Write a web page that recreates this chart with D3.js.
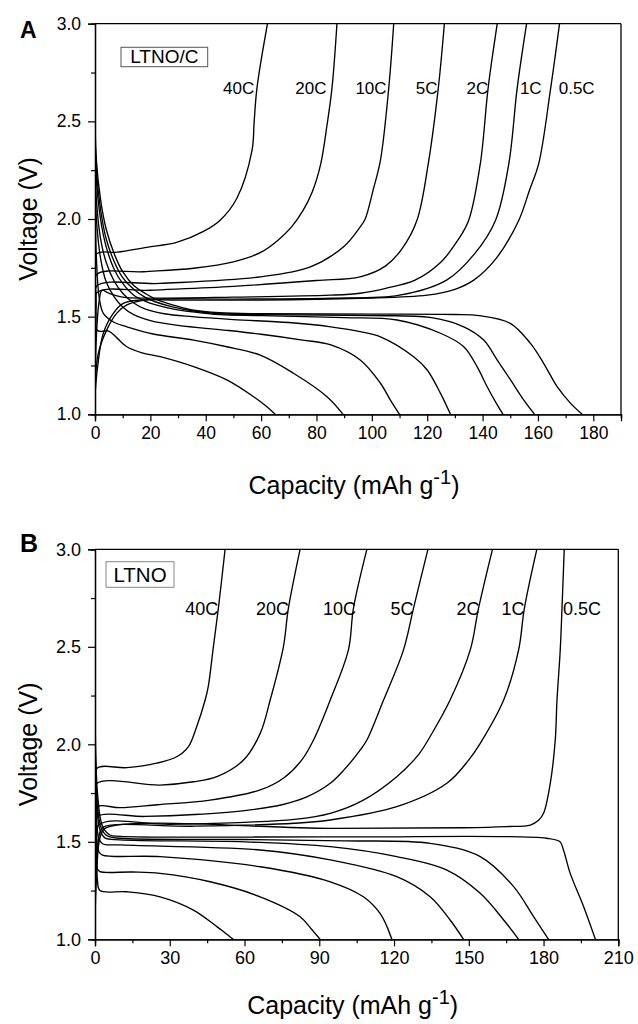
<!DOCTYPE html>
<html><head><meta charset="utf-8">
<script src="https://cdn.jsdelivr.net/npm/d3@7/dist/d3.min.js"></script>
<style>
body{margin:0;background:#fff}
svg{display:block}
text{font-family:"Liberation Sans",Arial,Helvetica,sans-serif;fill:#000}
</style></head><body>
<svg id="chart" width="638" height="1024"></svg>
<script>
// ---------- DATA (capacity mAh/g, voltage V) ----------
const rates = ["40C","20C","10C","5C","2C","1C","0.5C"];

// Panel A : LTNO/C
const A_charge_40C = [[0,1.25],[0.2,1.6],[0.5,1.82],[8,1.83],[18.7,1.855],[29.5,1.88],[39,1.935],[45.2,1.994],[51.2,2.105],[56.7,2.35],[57.5,2.5],[58.5,2.67],[62.3,3.0]];
const A_charge_20C = [[0,1.2],[0.3,1.6],[0.6,1.716],[17.5,1.73],[35.6,1.748],[50,1.78],[60,1.83],[66,1.89],[71,1.96],[75,2.04],[78.5,2.14],[81.5,2.28],[83.8,2.48],[85.6,2.67],[87.4,3.0]];
const A_charge_10C = [[0,1.2],[0.3,1.55],[0.6,1.657],[23.5,1.67],[59.7,1.704],[77.8,1.755],[89.8,1.858],[95.8,1.96],[97.6,2.0],[100.5,2.15],[103.1,2.3],[106.1,2.67],[107.9,3.0]];
const A_charge_5C  = [[0,1.2],[0.3,1.5],[0.6,1.622],[20,1.635],[50,1.655],[80,1.685],[95.8,1.704],[105,1.76],[111,1.85],[116.3,1.994],[120.4,2.285],[124,2.67],[126.2,3.0]];
const A_charge_2C  = [[0,1.15],[0.5,1.4],[1.5,1.58],[2.5,1.635],[5,1.62],[10,1.6],[20,1.595],[50,1.6],[85,1.61],[95.8,1.62],[105,1.645],[115.6,1.687],[125,1.78],[131,1.89],[135,1.994],[139.2,2.285],[142,2.67],[145.3,3.0]];
const A_charge_1C  = [[0,1.15],[1.2,1.312],[4.2,1.431],[7.8,1.517],[11.5,1.56],[16.3,1.581],[23.5,1.59],[50,1.59],[85,1.594],[110,1.61],[127,1.687],[137,1.82],[144.7,1.994],[149.5,2.285],[152.5,2.67],[155.9,3.0]];
const A_charge_05C = [[0,1.1],[1,1.25],[3,1.415],[6.6,1.517],[10.2,1.568],[16.3,1.585],[30,1.585],[60,1.585],[95.8,1.594],[120,1.61],[130,1.64],[136.8,1.687],[145,1.8],[153.1,1.994],[157,2.15],[160.3,2.285],[164.6,2.67],[167.8,3.0]];

const A_dis_40C = [[0,1.9],[0.3,1.6],[0.8,1.43],[5,1.426],[8,1.39],[11.5,1.346],[17,1.315],[23.5,1.295],[35.6,1.244],[47.6,1.176],[57.3,1.09],[62,1.04],[65.1,1.0]];
const A_dis_20C = [[0,2.1],[0.5,1.8],[1.5,1.6],[3,1.517],[7,1.47],[11.5,1.448],[21,1.411],[35.6,1.38],[47.6,1.346],[59.7,1.303],[71.7,1.21],[83.8,1.09],[89.6,1.0]];
const A_dis_10C = [[0,2.2],[0.5,2.0],[2,1.8],[4,1.68],[7,1.6],[10,1.55],[14,1.51],[20,1.48],[30,1.455],[47.6,1.43],[60,1.41],[75,1.38],[85.2,1.355],[95.8,1.278],[103.1,1.159],[106.7,1.073],[110,1.0]];
const A_dis_5C  = [[0,2.3],[0.5,2.1],[2,1.9],[4,1.78],[7,1.68],[10,1.62],[14,1.57],[18,1.54],[25,1.515],[35,1.5],[50,1.485],[70,1.47],[85.2,1.448],[95.8,1.423],[103.1,1.397],[115.1,1.295],[120,1.227],[124.8,1.107],[128.4,1.0]];
const A_dis_2C  = [[0,2.4],[0.5,2.2],[2,2.0],[4,1.86],[7,1.74],[10,1.67],[14,1.61],[18,1.58],[22,1.56],[28,1.54],[35,1.525],[45,1.51],[60,1.505],[90,1.495],[109.1,1.483],[124.8,1.415],[133.2,1.346],[138,1.244],[141.7,1.14],[145.3,1.048],[147.4,1.0]];
const A_dis_1C  = [[0,2.45],[0.5,2.25],[2,2.05],[4,1.9],[7,1.78],[10,1.7],[14,1.64],[18,1.6],[22,1.575],[28,1.55],[35,1.53],[45,1.515],[60,1.51],[100,1.505],[121,1.496],[133.2,1.448],[140.4,1.38],[145.3,1.278],[150.1,1.176],[154.9,1.073],[158.8,1.0]];
const A_dis_05C = [[0,2.5],[0.5,2.3],[2,2.1],[4,1.95],[7,1.82],[10,1.73],[14,1.66],[18,1.62],[22,1.59],[28,1.56],[35,1.535],[45,1.52],[60,1.515],[100,1.513],[130,1.511],[139,1.505],[150,1.466],[157.3,1.363],[162.1,1.26],[167,1.14],[171.8,1.056],[176,1.0]];

// Panel B : LTNO
const B_charge_40C = [[0,1.3],[0.3,1.75],[0.8,1.877],[12.7,1.88],[24.7,1.903],[32.8,1.936],[37.5,1.988],[40.8,2.09],[44.2,2.227],[45.5,2.3],[47.5,2.5],[49.5,2.697],[52.2,3.0]];
const B_charge_20C = [[0,1.25],[0.3,1.7],[0.8,1.8],[26.1,1.791],[39.5,1.808],[48.9,1.834],[59.6,1.919],[66.3,2.056],[70.3,2.227],[75.6,2.5],[77.6,2.697],[82.3,3.0]];
const B_charge_10C = [[0,1.2],[0.5,1.6],[1,1.68],[10,1.675],[25,1.69],[46.2,1.714],[66.3,1.766],[76,1.83],[83,1.92],[87.7,2.022],[94.4,2.227],[101.7,2.484],[103.7,2.697],[109.1,3.0]];
const B_charge_5C  = [[0,1.2],[0.5,1.55],[1,1.629],[20,1.63],[40,1.64],[60,1.66],[75,1.69],[85,1.73],[94.4,1.8],[100,1.87],[106.4,1.97],[109.1,2.022],[115.8,2.227],[123.8,2.484],[127.8,2.697],[133.6,3.0]];
const B_charge_2C  = [[0,1.15],[0.5,1.45],[1.5,1.586],[30,1.59],[60,1.6],[80,1.615],[94.4,1.646],[107.7,1.714],[121.1,1.834],[130,1.95],[134.5,2.04],[142.5,2.227],[150.6,2.484],[153.9,2.697],[159.5,3.0]];
const B_charge_1C  = [[0,1.1],[0.5,1.35],[2,1.55],[3.5,1.577],[40,1.58],[80,1.595],[94.4,1.612],[121.1,1.68],[141.2,1.8],[150,1.92],[154.6,2.005],[164,2.227],[170,2.484],[172.3,2.697],[177.3,3.0]];
const B_charge_05C = [[0,1.07],[0.5,1.3],[2,1.52],[4,1.569],[94.4,1.569],[147.9,1.572],[165,1.578],[174.7,1.586],[178,1.61],[180,1.646],[182.7,1.8],[184.7,2.022],[185.4,2.227],[186.7,2.484],[187.4,2.697],[188.3,3.0]];

const B_dis_40C = [[0,1.9],[0.5,1.5],[1,1.3],[2,1.25],[12.7,1.244],[26.1,1.218],[39.5,1.15],[48.9,1.065],[52,1.035],[55.5,1.0]];
const B_dis_20C = [[0,1.95],[0.5,1.5],[1,1.36],[2,1.347],[15,1.345],[26.1,1.338],[46.2,1.295],[66.3,1.218],[82.3,1.116],[87,1.05],[90.3,1.0]];
const B_dis_10C = [[0,2.0],[0.5,1.6],[1.5,1.45],[3,1.432],[26.1,1.424],[66.3,1.372],[94.4,1.295],[107.7,1.218],[114.4,1.133],[117,1.07],[119.1,1.0]];
const B_dis_5C  = [[0,2.05],[0.5,1.65],[1.5,1.52],[3,1.49],[10,1.484],[66.3,1.458],[94.4,1.407],[121.1,1.321],[134.5,1.218],[142.5,1.099],[147.9,1.0]];
const B_dis_2C  = [[0,2.1],[0.7,1.7],[2,1.56],[4,1.52],[10,1.51],[60,1.5],[94.4,1.475],[121.1,1.424],[141.2,1.355],[154.6,1.236],[164,1.099],[170,1.0]];
const B_dis_1C  = [[0,2.15],[0.8,1.72],[2.5,1.57],[5,1.53],[10,1.518],[60,1.512],[100,1.505],[134.5,1.492],[154.6,1.424],[168,1.27],[176,1.116],[182,1.0]];
const B_dis_05C = [[0,2.2],[1,1.75],[3,1.58],[6,1.535],[10,1.528],[100,1.525],[181.3,1.518],[186.6,1.5],[188,1.458],[190.7,1.338],[196.1,1.167],[200.8,1.0]];

// tick values
const A_xTicks = [0,20,40,60,80,100,120,140,160,180];
const A_xMinor = [10,30,50,70,90,110,130,150,170,190];
const B_xTicks = [0,30,60,90,120,150,180,210];
const B_xMinor = [15,45,75,105,135,165,195];
const yTicks = [1.0,1.5,2.0,2.5,3.0];
const yMinor = [1.25,1.75,2.25,2.75];

// rate label centres (capacity)
const A_labelX = [51.9,78,99.7,119.8,138.1,157.4,174];
const B_labelX = [42.8,71.2,98.1,123.2,149.7,167.7,195.4];

// ---------- DRAW ----------
const svg = d3.select("#chart");

function panel(cfg){
  const x = d3.scaleLinear().domain(cfg.xDomain).range([cfg.left, cfg.right]);
  const y = d3.scaleLinear().domain([1,3]).range([cfg.bottom, cfg.top]);
  const g = svg.append("g");
  const clipId = "clip"+cfg.name;
  svg.append("defs").append("clipPath").attr("id",clipId)
     .append("rect").attr("x",cfg.left).attr("y",cfg.top)
     .attr("width",cfg.right-cfg.left).attr("height",cfg.bottom-cfg.top);
  const line = d3.line().x(d=>x(d[0])).y(d=>y(d[1])).curve(d3.curveCatmullRom.alpha(0.5));
  const lines = g.append("g").attr("clip-path",`url(#${clipId})`);
  cfg.curves.forEach(c=>{
    lines.append("path").attr("d",line(c)).attr("fill","none")
      .attr("stroke","#000").attr("stroke-width",1.35).attr("stroke-linejoin","round");
  });
  // axes
  const xAxis = d3.axisBottom(x).tickValues(cfg.xTicks).tickSize(7).tickPadding(5).tickFormat(d3.format("d"));
  const xMin = d3.axisBottom(x).tickValues(cfg.xMinor).tickSize(4).tickFormat("");
  const yAxis = d3.axisLeft(y).tickValues(yTicks).tickSize(7).tickPadding(7).tickFormat(d3.format(".1f"));
  const yMin = d3.axisLeft(y).tickValues(yMinor).tickSize(4).tickFormat("");
  g.append("g").attr("transform",`translate(0,${cfg.bottom})`).call(xAxis);
  g.append("g").attr("transform",`translate(0,${cfg.bottom})`).call(xMin);
  g.append("g").attr("transform",`translate(${cfg.left},0)`).call(yAxis);
  g.append("g").attr("transform",`translate(${cfg.left},0)`).call(yMin);
  g.selectAll(".domain").attr("stroke","#000").attr("stroke-width",1.3);
  g.selectAll(".tick line").attr("stroke","#000").attr("stroke-width",1.2);
  g.selectAll(".tick text").attr("font-family",null).style("font-size",cfg.tickFont+"px").attr("fill","#000");
  // frame top/right
  g.append("line").attr("x1",cfg.left).attr("x2",cfg.right).attr("y1",cfg.top).attr("y2",cfg.top).attr("stroke","#000").attr("stroke-width",1.3);
  g.append("line").attr("x1",cfg.right).attr("x2",cfg.right).attr("y1",cfg.top).attr("y2",cfg.bottom).attr("stroke","#000").attr("stroke-width",1.3);
  // rate labels
  rates.forEach((r,i)=>{
    g.append("text").attr("x",x(cfg.labelX[i])).attr("y",cfg.labelY).attr("text-anchor","middle")
     .style("font-size",cfg.labelFont+"px").text(r);
  });
  // box label
  g.append("rect").attr("x",cfg.box[0]).attr("y",cfg.box[1]).attr("width",cfg.box[2]).attr("height",cfg.box[3])
    .attr("fill","none").attr("stroke",cfg.boxStroke).attr("stroke-width",1);
  g.append("text").attr("x",cfg.box[0]+cfg.box[2]/2).attr("y",cfg.boxTextY).attr("text-anchor","middle")
    .style("font-size",cfg.boxFont+"px").text(cfg.boxText);
  // axis titles
  const t = g.append("text").attr("x",(cfg.left+cfg.right)/2-4).attr("y",cfg.xTitleY).attr("text-anchor","middle")
    .style("font-size",cfg.titleFont+"px");
  t.append("tspan").text("Capacity (mAh g");
  t.append("tspan").attr("dy",-10).style("font-size",(cfg.titleFont*0.8)+"px").text("-1");
  t.append("tspan").attr("dy",10).text(")");
  g.append("text").attr("transform",`translate(${cfg.yTitleX},${(cfg.top+cfg.bottom)/2}) rotate(-90)`)
    .attr("text-anchor","middle").style("font-size",cfg.titleFont+"px").text("Voltage (V)");
  // panel letter
  g.append("text").attr("x",20).attr("y",cfg.letterY).style("font-size",cfg.letterFont+"px")
    .style("font-weight","bold").text(cfg.name);
}

panel({name:"A", xDomain:[0,190], left:95, right:621, top:23.7, bottom:414.3,
  xTicks:A_xTicks, xMinor:A_xMinor, tickFont:17.5, labelFont:17, labelX:A_labelX, labelY:94,
  curves:[A_charge_40C,A_charge_20C,A_charge_10C,A_charge_5C,A_charge_2C,A_charge_1C,A_charge_05C,
          A_dis_40C,A_dis_20C,A_dis_10C,A_dis_5C,A_dis_2C,A_dis_1C,A_dis_05C],
  box:[121,47.3,86.7,19.4], boxStroke:"#555", boxText:"LTNO/C", boxFont:19, boxTextY:63,
  titleFont:25, xTitleY:494, yTitleX:37, letterY:38, letterFont:23});

panel({name:"B", xDomain:[0,210], left:95, right:618.3, top:549.3, bottom:939.3,
  xTicks:B_xTicks, xMinor:B_xMinor, tickFont:18, labelFont:18, labelX:B_labelX, labelY:615,
  curves:[B_charge_40C,B_charge_20C,B_charge_10C,B_charge_5C,B_charge_2C,B_charge_1C,B_charge_05C,
          B_dis_40C,B_dis_20C,B_dis_10C,B_dis_5C,B_dis_2C,B_dis_1C,B_dis_05C],
  box:[106,561.7,68,25.6], boxStroke:"#888", boxText:"LTNO", boxFont:20.5, boxTextY:582,
  titleFont:25, xTitleY:1014, yTitleX:37, letterY:552, letterFont:25});
</script>
</body></html>
